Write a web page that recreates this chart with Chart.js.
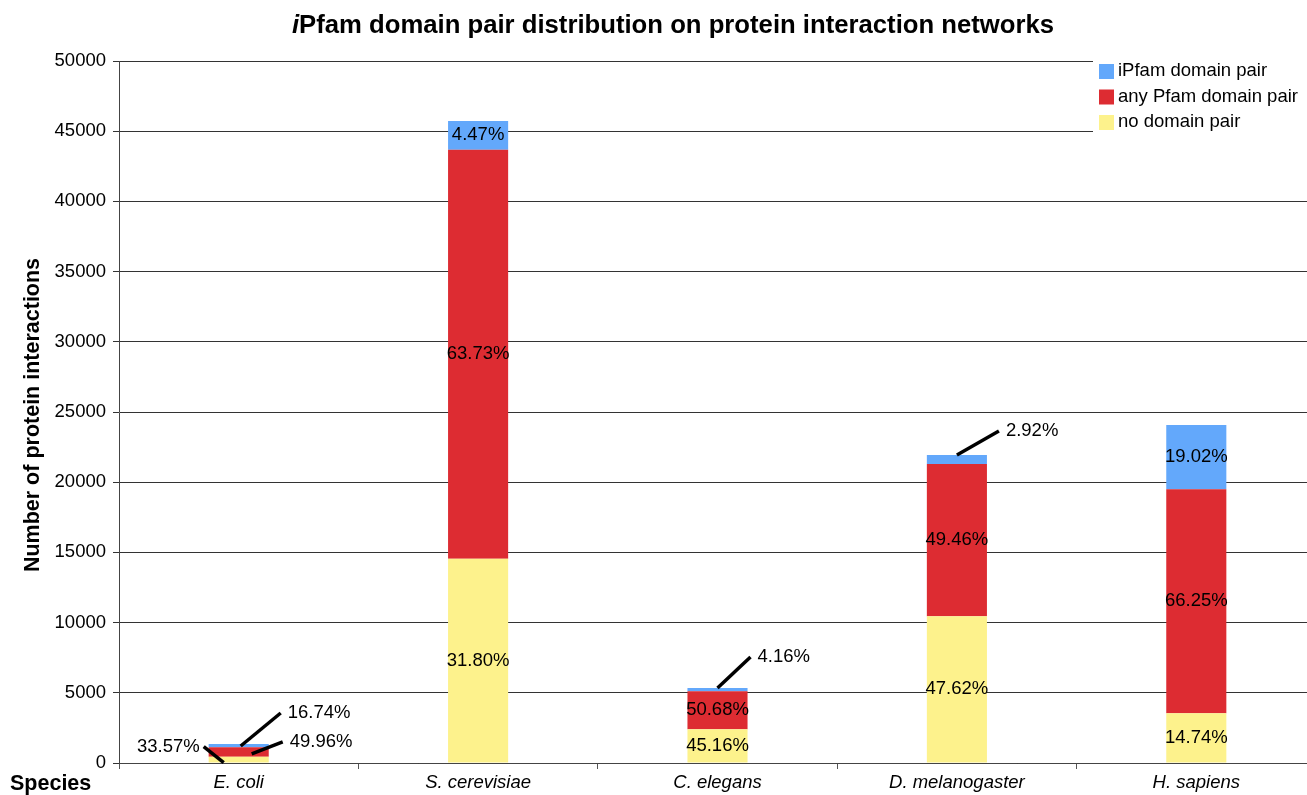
<!DOCTYPE html>
<html>
<head>
<meta charset="utf-8">
<script src="https://cdn.jsdelivr.net/npm/chart.js@4.4.0/dist/chart.umd.min.js"></script>
<style>
  html, body { margin: 0; padding: 0; background: #fff; overflow: hidden; }
  #wrap { width: 1316px; height: 795px; position: relative; }
</style>
</head>
<body>
<div id="wrap"><canvas id="grafico"></canvas></div>
<script>
// dados
const especies = ['E. coli', 'S. cerevisiae', 'C. elegans', 'D. melanogaster', 'H. sapiens'];
const semPar = [453, 14542, 2412, 10448, 3548];
const qualquerPfam = [674, 29144, 2706, 10852, 15946];
const iPfam = [226, 2044, 222, 641, 4578];
const rotSemPar = ['33.57%', '31.80%', '45.16%', '47.62%', '14.74%'];
const rotQualquer = ['49.96%', '63.73%', '50.68%', '49.46%', '66.25%'];
const rotIPfam = ['16.74%', '4.47%', '4.16%', '2.92%', '19.02%'];
const ticksY = [0, 5000, 10000, 15000, 20000, 25000, 30000, 35000, 40000, 45000, 50000];

const cores = {
    azul: '#63a8fb',
    vermelho: '#dd2c32',
    amarelo: '#fdf28c'
};

const FONTE = '"Liberation Sans", Arial, sans-serif';

// rótulos com linha de chamada: [dataset, indice, dx1, dy1, dx2, dy2, alinhamento]
const chamadas = [
    [0, 0, -15, 3, -35, -16, 'right'],
    [2, 0, 2, 2, 42, -33, 'left'],
    [1, 0, 13, 2, 44, -12, 'left'],
    [2, 2, 0, 0, 33, -31, 'left'],
    [2, 3, 0, 0, 42, -24, 'left']
];

const pluginRotulos = {
    id: 'rotulos',
    afterDatasetsDraw(chart) {
        const ctx = chart.ctx;
        const rotulos = [rotSemPar, rotQualquer, rotIPfam];
        ctx.save();
        ctx.font = '18.5px ' + FONTE;
        ctx.fillStyle = '#000';
        ctx.textBaseline = 'middle';
        for (let d = 0; d < 3; d++) {
            const meta = chart.getDatasetMeta(d);
            meta.data.forEach((bar, i) => {
                const chamada = chamadas.find(c => c[0] === d && c[1] === i);
                const yMeio = (bar.y + bar.base) / 2;
                if (chamada) {
                    const x1 = bar.x + chamada[2];
                    const y1 = (d === 2 ? bar.y : yMeio) + chamada[3];
                    const x2 = bar.x + chamada[4];
                    const y2 = y1 + chamada[5];
                    ctx.strokeStyle = '#000';
                    ctx.lineWidth = 3.5;
                    ctx.beginPath();
                    ctx.moveTo(x1, y1);
                    ctx.lineTo(x2, y2);
                    ctx.stroke();
                    ctx.textAlign = chamada[6];
                    ctx.fillText(rotulos[d][i], chamada[6] === 'right' ? x2 - 4 : x2 + 7, y2);
                } else {
                    ctx.textAlign = 'center';
                    ctx.fillText(rotulos[d][i], bar.x, yMeio);
                }
            });
        }
        ctx.restore();
    }
};

const pluginTextos = {
    id: 'textos',
    afterDraw(chart) {
        const ctx = chart.ctx;
        ctx.save();
        // título com "i" em itálico
        ctx.textBaseline = 'middle';
        ctx.fillStyle = '#000';
        const parte1 = 'i';
        const parte2 = 'Pfam domain pair distribution on protein interaction networks';
        ctx.font = 'italic bold 25.7px ' + FONTE;
        const w1 = ctx.measureText(parte1).width;
        ctx.font = 'bold 25.7px ' + FONTE;
        const w2 = ctx.measureText(parte2).width;
        const x = 673 - (w1 + w2) / 2;
        ctx.textAlign = 'left';
        ctx.font = 'italic bold 25.7px ' + FONTE;
        ctx.fillText(parte1, x, 26);
        ctx.font = 'bold 25.7px ' + FONTE;
        ctx.fillText(parte2, x + w1, 26);

        // título do eixo y
        ctx.save();
        ctx.translate(33, 415);
        ctx.rotate(-Math.PI / 2);
        ctx.textAlign = 'center';
        ctx.font = 'bold 21.5px ' + FONTE;
        ctx.fillText('Number of protein interactions', 0, 0);
        ctx.restore();

        // "Species"
        ctx.textAlign = 'left';
        ctx.font = 'bold 21.5px ' + FONTE;
        ctx.fillText('Species', 10, 784);

        // legenda
        const lx = 1093, ly = 58;
        ctx.fillStyle = '#fff';
        ctx.fillRect(lx, ly, chart.width - lx, 78);
        const itens = [
            ['iPfam domain pair', cores.azul],
            ['any Pfam domain pair', cores.vermelho],
            ['no domain pair', cores.amarelo]
        ];
        ctx.font = '18.5px ' + FONTE;
        itens.forEach((it, k) => {
            const yy = 71 + k * 25.5;
            ctx.fillStyle = it[1];
            ctx.fillRect(1099, yy - 7, 15, 15);
            ctx.fillStyle = '#000';
            ctx.fillText(it[0], 1118, yy);
        });
        ctx.restore();
    }
};

const ctx = document.getElementById('grafico').getContext('2d');
new Chart(ctx, {
    type: 'bar',
    data: {
        labels: especies,
        datasets: [
            { label: 'no domain pair', data: semPar, backgroundColor: cores.amarelo },
            { label: 'any Pfam domain pair', data: qualquerPfam, backgroundColor: cores.vermelho },
            { label: 'iPfam domain pair', data: iPfam, backgroundColor: cores.azul }
        ]
    },
    options: {
        responsive: true,
        maintainAspectRatio: false,
        animation: false,
        datasets: {
            bar: { barPercentage: 0.251, categoryPercentage: 1 }
        },
        layout: { padding: { top: 61, right: 0, bottom: 0, left: 0 } },
        plugins: {
            legend: { display: false },
            title: { display: false },
            tooltip: { enabled: false }
        },
        scales: {
            x: {
                stacked: true,
                afterFit(scale) { scale.height = 32; },
                grid: {
                    offset: true,
                    drawOnChartArea: false,
                    drawTicks: true,
                    tickLength: 6,
                    color: '#555'
                },
                border: { display: true, color: '#444' },
                ticks: {
                    color: '#000',
                    padding: 3,
                    font: { family: FONTE, size: 18.5, style: 'italic' }
                }
            },
            y: {
                stacked: true,
                min: 0,
                max: 50000,
                afterFit(scale) { scale.width = 119; },
                afterBuildTicks(scale) { scale.ticks = ticksY.map(v => ({ value: v })); },
                grid: {
                    color: '#333',
                    lineWidth: 1,
                    tickLength: 6
                },
                border: { display: true, color: '#444' },
                ticks: {
                    color: '#000',
                    padding: 7,
                    callback: v => String(v),
                    font: { family: FONTE, size: 18.5 }
                }
            }
        }
    },
    plugins: [pluginRotulos, pluginTextos]
});
</script>
</body>
</html>
